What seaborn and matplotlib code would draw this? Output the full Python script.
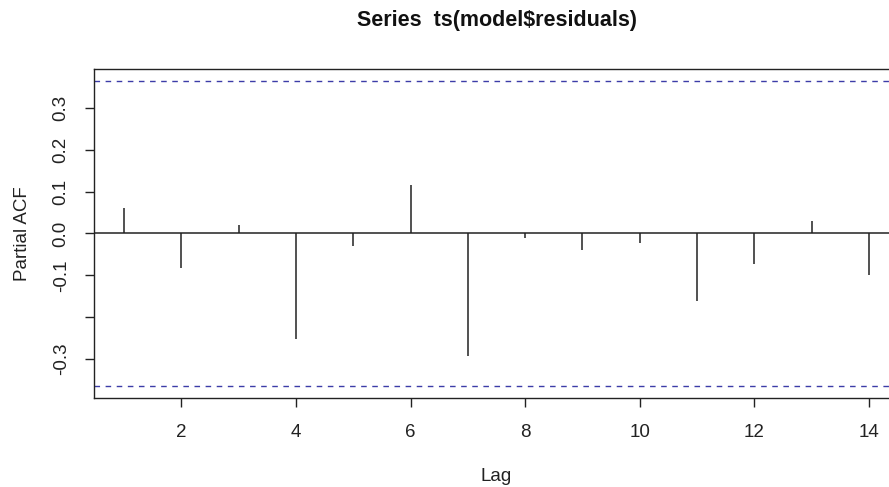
import numpy as np
import matplotlib
matplotlib.use('Agg')
import matplotlib.pyplot as plt
import seaborn as sns

# PACF values
lags = [1, 2, 3, 4, 5, 6, 7, 8, 9, 10, 11, 12, 13, 14]
pacf_vals = [0.060, -0.083, 0.020, -0.253, -0.029, 0.117, -0.293,
             -0.010, -0.040, -0.023, -0.161, -0.072, 0.029, -0.099]
n_obs = 29
clim = 1.96 / np.sqrt(n_obs)

y_ticks = [-0.3, -0.2, -0.1, 0.0, 0.1, 0.2, 0.3]
y_labels = ['-0.3', '', '-0.1', '0.0', '0.1', '0.2', '0.3']
x_ticks = [2, 4, 6, 8, 10, 12, 14]

sns.set_theme(style='ticks')
plt.rcParams['font.family'] = ['Liberation Sans', 'DejaVu Sans']

fig = plt.figure(figsize=(8.89, 4.87), dpi=100)
ax = fig.add_axes([0.1061, 0.1834, 0.9048, 0.6743])

# spikes
ax.vlines(lags, 0, pacf_vals, color='#222222', linewidth=1.1)
ax.axhline(0, color='#222222', linewidth=1.1)

# confidence bounds
for c in (clim, -clim):
    ax.axhline(c, color='#3c3ca8', linewidth=1.0, linestyle=(0, (4, 4)))

# R style limits: 4% extension of the range
xr = max(lags) - min(lags)
ax.set_xlim(min(lags) - 0.04 * xr, max(lags) + 0.04 * xr)
ymin = min(min(pacf_vals), -clim)
ymax = max(max(pacf_vals), clim)
yr = ymax - ymin
ax.set_ylim(ymin - 0.04 * yr, ymax + 0.04 * yr)

ax.set_xticks(x_ticks)
ax.set_yticks(y_ticks)
ax.set_yticklabels(y_labels, rotation=90, va='center')
ax.tick_params(axis='both', direction='out', length=6.7, width=1.0,
               color='#222222', labelsize=13.5, labelcolor='#222222')
ax.tick_params(axis='x', pad=12)
ax.tick_params(axis='y', pad=11)

for s in ax.spines.values():
    s.set_color('#222222')
    s.set_linewidth(1.0)

ax.set_xlabel('Lag', fontsize=13.5, color='#222222', labelpad=20)
ax.set_ylabel('Partial ACF', fontsize=13.5, color='#222222', labelpad=16)

fig.text(0.5596, 0.957, 'Series  ts(model$residuals)', ha='center', va='center',
         fontsize=15.5, fontweight='bold', color='#111111')

fig.savefig('out.png', dpi=100, facecolor='white')
